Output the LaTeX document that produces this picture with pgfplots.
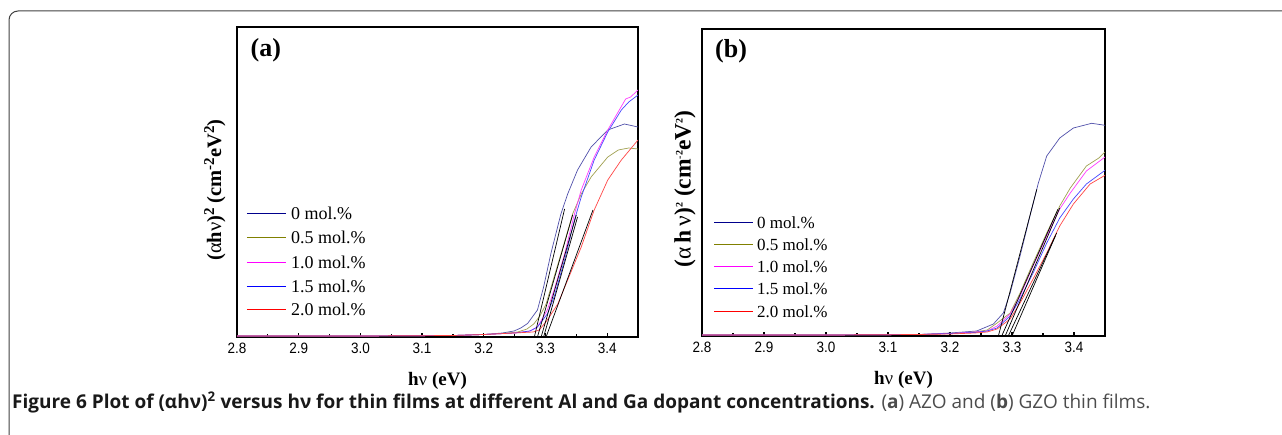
\documentclass[border=0pt]{standalone}
\usepackage{fontspec}
\setmainfont{Liberation Serif}
\newfontfamily\arialn[FakeStretch=0.9]{Liberation Sans}
\newfontfamily\capfont{Open Sans}
\usepackage{pgfplots}
\pgfplotsset{compat=1.18}
\definecolor{cnavy}{RGB}{80,80,170}
\definecolor{colive}{RGB}{160,160,80}
\definecolor{cmag}{RGB}{255,60,255}
\definecolor{cblue}{RGB}{70,70,255}
\definecolor{cred}{RGB}{255,70,70}
\definecolor{lnavy}{RGB}{0,0,140}
\definecolor{lolive}{RGB}{128,128,0}
\definecolor{lmag}{RGB}{255,0,255}
\definecolor{lblue}{RGB}{0,0,255}
\definecolor{lred}{RGB}{255,0,0}
\pgfplotsset{
  myaxis/.style={
    scale only axis,
    xmin=2.8, xmax=3.45, ymin=0,
    axis line style={line width=1.8pt},
    xtick={2.8,2.9,3.0,3.1,3.2,3.3,3.4},
    xticklabels={2.8,2.9,3.0,3.1,3.2,3.3,3.4},
    minor x tick num=1,
    ytick=\empty,
    tick align=inside,
    xtick pos=bottom,
    major tick length=4pt, minor tick length=3pt,
    every tick/.style={line width=1.2pt, black},
    xticklabel style={font=\arialn\fontsize{15}{15}\selectfont, inner sep=0pt, yshift=-5.5pt},
    xlabel={\textbf{h}ν\textbf{ (eV)}},
    xlabel style={font=\fontsize{19}{20}\selectfont, at={(rel axis cs:0.5,-0.142)}, anchor=center},
    every axis plot/.append style={line width=0.7pt},
  }
}
\newcommand{\legrow}[6]{% color, x1, x2, xt, y, text
  \draw[#1, line width=1pt] (rel axis cs:#2,#5) -- (rel axis cs:#3,#5);
  \node[anchor=base west, inner sep=0pt] at ([yshift=-6pt]rel axis cs:#4,#5) {#6};
}
\begin{document}
\begin{tikzpicture}[x=1pt,y=1pt]
\path[use as bounding box] (0,0) rectangle (1282,434);
\draw[line width=1pt, black!75, rounded corners=9pt] (1300,423) -- (9,423) -- (9,-20);

% ---------------- panel (a) ----------------
\begin{axis}[myaxis,
  at={(237pt,97pt)}, anchor=south west,
  width=401pt, height=310pt, ymax=310,
  ylabel={\textbf{(}α\textbf{h}ν\textbf{)\raisebox{7pt}{\fontsize{15}{15}\selectfont 2} (cm\raisebox{7pt}{\fontsize{15}{15}\selectfont -2}eV\raisebox{7pt}{\fontsize{15}{15}\selectfont 2})}},
  ylabel style={font=\fontsize{20.5}{21}\selectfont, at={(rel axis cs:-0.055,0.474)}, anchor=center},
]
\addplot[cnavy] coordinates {(2.8,1) (3.0,1) (3.15,1.5) (3.2,2.5) (3.23,4) (3.249,6) (3.26,9) (3.271,13.5) (3.287,27) (3.297,50) (3.309,84) (3.325,123) (3.336,143) (3.352,167) (3.374,190) (3.401,207) (3.428,213) (3.45,210)};
\addplot[colive] coordinates {(2.8,1) (3.0,1) (3.15,1.5) (3.2,2.5) (3.23,3.5) (3.255,5) (3.27,8) (3.281,13) (3.291,21) (3.301,33) (3.314,60) (3.330,93) (3.344,123) (3.358,143) (3.374,160) (3.401,180) (3.418,187) (3.435,189) (3.45,188)};
\addplot[cmag] coordinates {(2.8,1) (3.0,1) (3.15,1.5) (3.2,2.5) (3.25,4) (3.275,6) (3.287,10) (3.303,27) (3.314,47) (3.331,83) (3.347,123) (3.358,147) (3.379,180) (3.401,207) (3.415,222) (3.43,238) (3.438,240) (3.45,247)};
\addplot[cblue] coordinates {(2.8,1) (3.0,1) (3.15,1.5) (3.2,2.5) (3.25,4) (3.275,6) (3.287,10) (3.303,23) (3.314,40) (3.331,77) (3.347,117) (3.358,140) (3.379,177) (3.401,205) (3.423,227) (3.435,235) (3.45,242)};
\addplot[cred] coordinates {(2.8,1) (3.0,1) (3.15,1.5) (3.2,2.5) (3.25,4) (3.28,5) (3.29,7) (3.303,17) (3.320,33) (3.336,57) (3.358,90) (3.379,127) (3.401,157) (3.423,177) (3.45,197)};
\addplot[black] coordinates {(3.282,0) (3.331,128)};
\addplot[black] coordinates {(3.287,0) (3.344,122)};
\addplot[black] coordinates {(3.293,0) (3.350,122)};
\addplot[black] coordinates {(3.297,0) (3.352,120)};
\addplot[black] coordinates {(3.301,0) (3.377,127)};
\node[font=\bfseries\fontsize{26}{26}\selectfont] at (rel axis cs:0.072,0.926) {(a)};
\begin{scope}[font=\fontsize{18}{18}\selectfont]
\legrow{lnavy}{0.0249}{0.122}{0.1347}{0.3968}{0 mol.\%}
\legrow{lolive}{0.0249}{0.122}{0.1347}{0.3194}{0.5 mol.\%}
\legrow{lmag}{0.0249}{0.122}{0.1347}{0.2419}{1.0 mol.\%}
\legrow{lblue}{0.0249}{0.122}{0.1347}{0.1645}{1.5 mol.\%}
\legrow{lred}{0.0249}{0.122}{0.1347}{0.0871}{2.0 mol.\%}
\end{scope}
\end{axis}

% ---------------- panel (b) ----------------
\begin{axis}[myaxis,
  at={(702pt,98pt)}, anchor=south west,
  width=403pt, height=307pt, ymax=307,
  ylabel={\textbf{(}α\textbf{\,h\,}ν\textbf{)\raisebox{8pt}{\fontsize{10}{10}\selectfont 2} (cm\raisebox{8pt}{\fontsize{10}{10}\selectfont -2}eV\raisebox{8pt}{\fontsize{10}{10}\selectfont 2})}},
  ylabel style={font=\fontsize{23.5}{24}\selectfont, at={(rel axis cs:-0.042,0.479)}, anchor=center},
]
\addplot[cnavy] coordinates {(2.8,1) (3.0,1) (3.15,1.5) (3.2,3) (3.243,5) (3.27,12) (3.286,23) (3.297,43) (3.313,80) (3.329,120) (3.3425,153) (3.356,180) (3.377,198) (3.399,208) (3.4285,212.7) (3.45,210.7)};
\addplot[colive] coordinates {(2.8,1) (3.0,1) (3.15,1.5) (3.2,2.5) (3.24,4) (3.26,6) (3.276,13) (3.297,23) (3.313,43) (3.334,73) (3.356,103) (3.377,130) (3.394,148) (3.42,170) (3.44,178) (3.45,184)};
\addplot[cmag] coordinates {(2.8,1) (3.0,1) (3.15,1.5) (3.2,2.5) (3.24,4) (3.26,5) (3.276,10) (3.297,22) (3.313,40) (3.334,70) (3.356,100) (3.377,127) (3.394,143) (3.42,165) (3.45,179)};
\addplot[cblue] coordinates {(2.8,1) (3.0,1) (3.15,1.5) (3.2,2.5) (3.24,3.5) (3.26,5) (3.276,8) (3.297,20) (3.313,37) (3.334,63) (3.356,93) (3.377,118) (3.399,137) (3.42,152) (3.45,165.7)};
\addplot[cred] coordinates {(2.8,1) (3.0,1) (3.15,1.5) (3.2,2) (3.24,3) (3.26,4) (3.276,7) (3.297,17) (3.313,33) (3.334,57) (3.356,83) (3.377,110) (3.399,132) (3.426,152) (3.45,160.7)};
\addplot[black] coordinates {(3.278,0) (3.340,146.7)};
\addplot[black] coordinates {(3.2834,0) (3.374,126.7)};
\addplot[black] coordinates {(3.289,0) (3.377,128)};
\addplot[black] coordinates {(3.294,0) (3.372,103)};
\addplot[black] coordinates {(3.300,0) (3.370,100)};
\node[font=\bfseries\fontsize{26}{26}\selectfont] at (rel axis cs:0.072,0.928) {(b)};
\begin{scope}[font=\fontsize{17}{17}\selectfont]
\legrow{lnavy}{0.0298}{0.1266}{0.1365}{0.3713}{0 mol.\%}
\legrow{lolive}{0.0298}{0.1266}{0.1365}{0.2989}{0.5 mol.\%}
\legrow{lmag}{0.0298}{0.1266}{0.1365}{0.2264}{1.0 mol.\%}
\legrow{lblue}{0.0298}{0.1266}{0.1365}{0.1539}{1.5 mol.\%}
\legrow{lred}{0.0298}{0.1266}{0.1365}{0.0814}{2.0 mol.\%}
\end{scope}
\end{axis}

% ---------------- caption ----------------
\node[anchor=base west, inner sep=0pt, font=\capfont\fontsize{19}{21}\selectfont] at (12,26)
  {\textbf{\color{black!90}Figure 6 Plot of (αhν)\textsuperscript{2} versus hν for thin films at different Al and Ga dopant concentrations.}
   {\color{black!70}(\textbf{a}) AZO and (\textbf{b}) GZO thin films.}};
\end{tikzpicture}
\end{document}
